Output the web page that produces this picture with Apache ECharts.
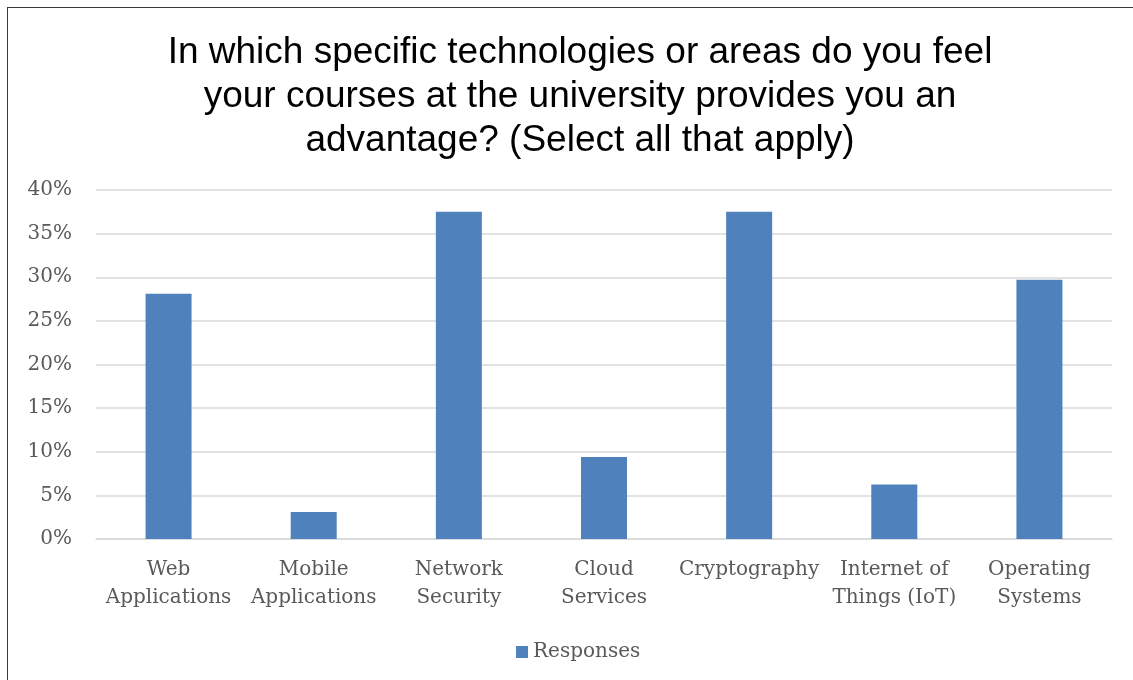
<!DOCTYPE html>
<html>
<head>
<meta charset="utf-8">
<script src="https://cdn.jsdelivr.net/npm/echarts@6/dist/echarts.min.js"></script>
<style>
html,body{margin:0;padding:0;background:#fff;}
#chart{width:1133px;height:680px;position:absolute;left:0;top:0;}
#frame{position:absolute;left:7px;top:7px;width:1126px;height:673px;border-left:1.5px solid #3a3a3a;border-top:1.5px solid #3a3a3a;pointer-events:none;}
</style>
</head>
<body>
<div id="chart"></div>
<div id="frame"></div>
<script>
const titleText = 'In which specific technologies or areas do you feel\nyour courses at the university provides you an\nadvantage? (Select all that apply)';
const categories = ['Web\nApplications', 'Mobile\nApplications', 'Network\nSecurity', 'Cloud\nServices', 'Cryptography', 'Internet of\nThings (IoT)', 'Operating\nSystems'];
const seriesName = 'Responses';
const responses = [28.1, 3.1, 37.5, 9.4, 37.5, 6.25, 29.7];
const yTicks = {min: 0, max: 40, interval: 5};

const serif = '"DejaVu Serif", "Liberation Serif", serif';
const chart = echarts.init(document.getElementById('chart'), null, {renderer: 'canvas'});
chart.setOption({
  backgroundColor: '#ffffff',
  animation: false,
  title: {
    text: titleText,
    left: 575,
    textAlign: 'center',
    top: 26,
    textStyle: {fontFamily: '"Liberation Sans", Arial, sans-serif', fontSize: 37, fontWeight: 'normal', color: '#000000', lineHeight: 44}
  },
  grid: {left: 96, right: 21, top: 190, bottom: 141, containLabel: false},
  legend: {
    data: [seriesName],
    bottom: 13,
    left: 511,
    itemWidth: 12,
    itemHeight: 12,
    icon: 'rect',
    itemGap: 6,
    textStyle: {fontFamily: serif, fontSize: 20, color: '#595959'}
  },
  xAxis: {
    type: 'category',
    data: categories,
    axisLine: {lineStyle: {color: '#d9d9d9', width: 1.5}},
    axisTick: {show: false},
    axisLabel: {fontFamily: serif, fontSize: 20, color: '#595959', lineHeight: 28, margin: 17, interval: 0}
  },
  yAxis: {
    type: 'value',
    min: yTicks.min,
    max: yTicks.max,
    interval: yTicks.interval,
    axisLine: {show: false},
    axisTick: {show: false},
    splitLine: {lineStyle: {color: '#d9d9d9', width: 1.5}},
    axisLabel: {formatter: '{value}%', fontFamily: serif, fontSize: 20, color: '#595959', margin: 24}
  },
  series: [{
    name: seriesName,
    type: 'bar',
    data: responses,
    barWidth: 46,
    itemStyle: {color: '#4f81bd'}
  }]
});
</script>
</body>
</html>
